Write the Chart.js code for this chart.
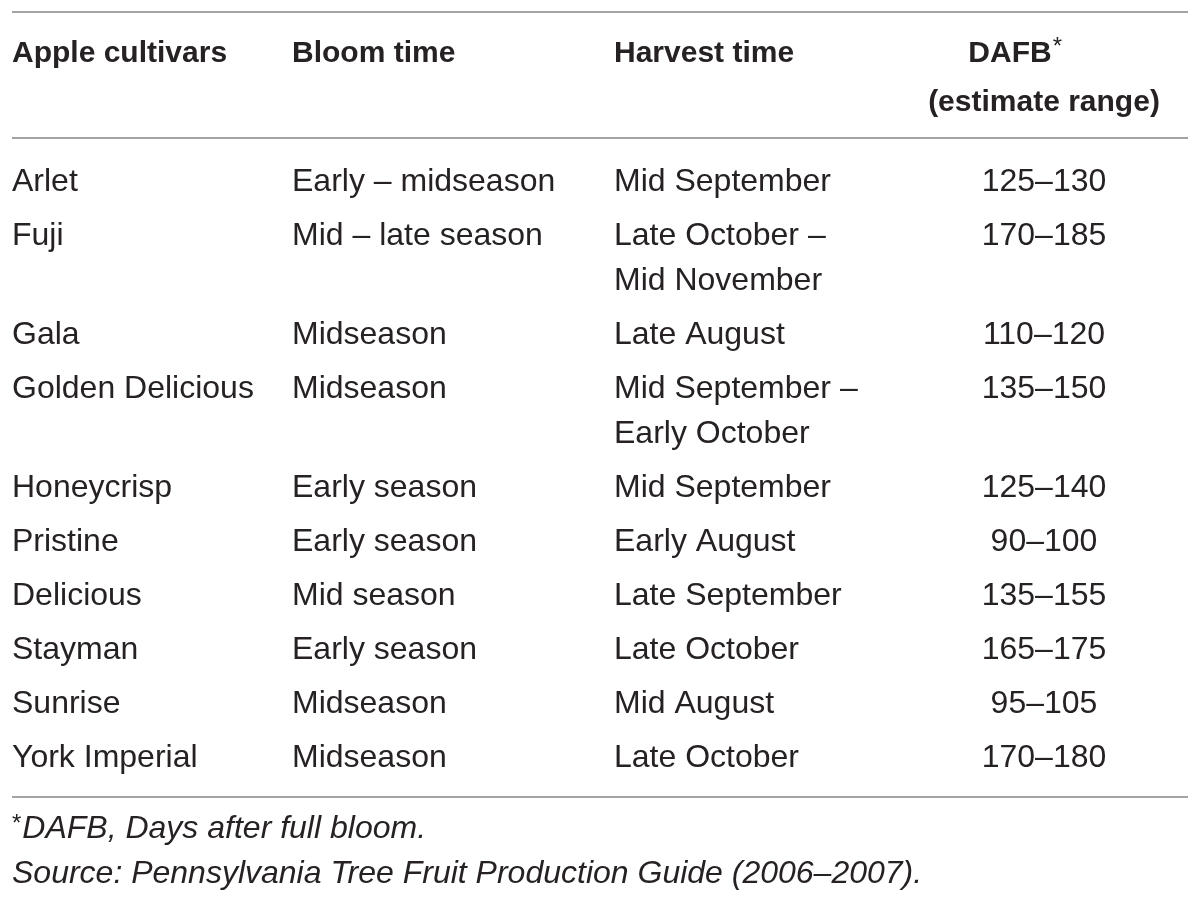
<!DOCTYPE html>
<html>
<head>
<meta charset="utf-8">
<title>Apple cultivars</title>
<script src="https://cdn.jsdelivr.net/npm/chart.js@4.4.1/dist/chart.umd.min.js"></script>
<style>
  html, body { margin: 0; padding: 0; background: #fff; }
  #wrap { position: relative; width: 1200px; height: 902px; }
</style>
</head>
<body>
<div id="wrap"><canvas id="appleTable" width="1200" height="902"></canvas></div>
<script>
// table content
const headers = [['Apple cultivars'], ['Bloom time'], ['Harvest time'], ['DAFB', '(estimate range)']];
const cultivars = ['Arlet', 'Fuji', 'Gala', 'Golden Delicious', 'Honeycrisp', 'Pristine', 'Delicious', 'Stayman', 'Sunrise', 'York Imperial'];
const bloomTimes = ['Early – midseason', 'Mid – late season', 'Midseason', 'Midseason', 'Early season', 'Early season', 'Mid season', 'Early season', 'Midseason', 'Midseason'];
const harvestTimes = [
  ['Mid September'],
  ['Late October –', 'Mid November'],
  ['Late August'],
  ['Mid September –', 'Early October'],
  ['Mid September'],
  ['Early August'],
  ['Late September'],
  ['Late October'],
  ['Mid August'],
  ['Late October'],
];
const dafbRanges = ['125–130', '170–185', '110–120', '135–150', '125–140', '90–100', '135–155', '165–175', '95–105', '170–180'];
const footnotes = ['DAFB, Days after full bloom.', 'Source: Pennsylvania Tree Fruit Production Guide (2006–2007).'];

// layout (in canvas units, mapped through the hidden scales)
const layout = {
  colX: [12, 292, 614, 1044],
  colAlign: ['left', 'left', 'left', 'center'],
  headTop: 54, headStep: 49,
  bodyTop: 182, lineStep: 45, rowGap: 9,
  footTop: 829,
  ruleTop: 12, ruleHead: 138, ruleAfter: 39,
  ruleFrom: 12, ruleTo: 1188,
};
const textColor = '#262223';
const ruleColor = '#a3a3a3';
const family = '"Liberation Sans", Arial, sans-serif';
const bodyFont = '32px ' + family;
const headFont = 'bold 30px ' + family;
const footFont = 'italic 32px ' + family;

// build cell points
const headPts = [];
headers.forEach((lines, c) => {
  lines.forEach((t, l) => {
    headPts.push({ x: layout.colX[c], y: layout.headTop + l * layout.headStep, text: t, align: layout.colAlign[c], sup: t === 'DAFB' ? '*' : null });
  });
});

const bodyPts = [];
let rowY = layout.bodyTop;
cultivars.forEach((name, i) => {
  const cells = [[name], [bloomTimes[i]], harvestTimes[i], [dafbRanges[i]]];
  let nLines = 1;
  cells.forEach((lines, c) => {
    nLines = Math.max(nLines, lines.length);
    lines.forEach((t, l) => {
      bodyPts.push({ x: layout.colX[c], y: rowY + l * layout.lineStep, text: t, align: layout.colAlign[c] });
    });
  });
  rowY += nLines * layout.lineStep + layout.rowGap;
});
const lastLineY = rowY - layout.lineStep - layout.rowGap;
const ruleBottom = lastLineY + layout.ruleAfter;

const footPts = footnotes.map((t, i) => ({ x: layout.colX[0], y: layout.footTop + i * layout.lineStep, text: t, align: 'left', pre: i === 0 ? '*' : null }));

const tableText = {
  id: 'tableText',
  beforeDatasetsDraw(chart, args, opts) {
    const { ctx, scales: { x, y } } = chart;
    ctx.save();
    ctx.strokeStyle = opts.ruleColor;
    ctx.lineWidth = 2;
    opts.rules.forEach((r) => {
      const py = Math.round(y.getPixelForValue(r));
      ctx.beginPath();
      ctx.moveTo(x.getPixelForValue(opts.from), py);
      ctx.lineTo(x.getPixelForValue(opts.to), py);
      ctx.stroke();
    });
    ctx.restore();
  },
  afterDatasetsDraw(chart) {
    const ctx = chart.ctx;
    ctx.save();
    ctx.fillStyle = textColor;
    ctx.textBaseline = 'middle';
    chart.data.datasets.forEach((ds, di) => {
      const meta = chart.getDatasetMeta(di);
      meta.data.forEach((pt, i) => {
        const raw = ds.data[i];
        const px = pt.x;
        ctx.font = ds.font;
        const w = ctx.measureText(raw.text).width;
        if (raw.sup) {
          // superscript asterisk after bold DAFB; the pair sits left of the column centre
          ctx.textAlign = 'left';
          const left = px - w / 2 - 34;
          ctx.fillText(raw.text, left, pt.y);
          ctx.font = '24px ' + family;
          ctx.fillText(raw.sup, left + w + 1, pt.y - 7);
          return;
        }
        if (raw.pre) {
          ctx.textAlign = 'left';
          ctx.font = '24px ' + family;
          ctx.fillText(raw.pre, px, pt.y - 5);
          const pw = ctx.measureText(raw.pre).width;
          ctx.font = ds.font;
          ctx.fillText(raw.text, px + pw + 1, pt.y);
          return;
        }
        ctx.textAlign = raw.align;
        ctx.fillText(raw.text, px, pt.y);
      });
    });
    ctx.restore();
  },
};

const pointStyle = { pointRadius: 0, pointHoverRadius: 0, showLine: false };

new Chart(document.getElementById('appleTable'), {
  type: 'scatter',
  data: {
    datasets: [
      { label: 'header', data: headPts, font: headFont, ...pointStyle },
      { label: 'body', data: bodyPts, font: bodyFont, ...pointStyle },
      { label: 'notes', data: footPts, font: footFont, ...pointStyle },
    ],
  },
  options: {
    responsive: false,
    animation: false,
    layout: { padding: 0 },
    events: [],
    scales: {
      x: { type: 'linear', min: 0, max: 1200, display: false },
      y: { type: 'linear', min: 0, max: 902, reverse: true, display: false },
    },
    plugins: {
      legend: { display: false },
      tooltip: { enabled: false },
      tableText: {
        ruleColor: ruleColor,
        rules: [layout.ruleTop, layout.ruleHead, ruleBottom],
        from: layout.ruleFrom,
        to: layout.ruleTo,
      },
    },
  },
  plugins: [tableText],
});
</script>
</body>
</html>
